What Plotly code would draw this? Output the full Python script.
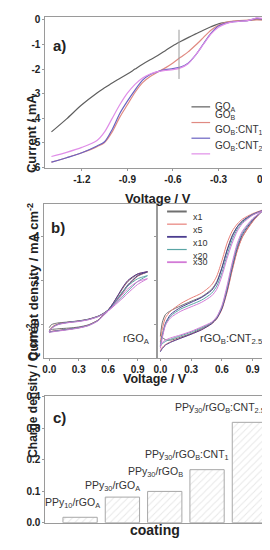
import plotly.graph_objects as go

FONT = "Liberation Sans, Arial, sans-serif"

# ---------------- Panel a data ----------------
a_V = [-1.40, -1.30, -1.20, -1.10, -1.05, -1.00, -0.95, -0.90, -0.85, -0.80, -0.75, -0.70,
       -0.65, -0.60, -0.55, -0.50, -0.45, -0.40, -0.35, -0.30, -0.25, -0.20, -0.10, -0.05, 0.00]
a_GOA = [-4.55, -4.02, -3.45, -2.97, -2.76, -2.56, -2.38, -2.20, -2.00, -1.80, -1.62, -1.45,
         -1.25, -1.05, -0.88, -0.72, -0.57, -0.42, -0.28, -0.16, -0.10, -0.06, -0.02, 0.02, 0.00]
a_GOB = [-5.78, -5.60, -5.40, -5.15, -4.98, -4.55, -3.95, -3.45, -2.95, -2.55, -2.30, -2.12,
         -1.95, -1.75, -1.52, -1.30, -1.02, -0.72, -0.42, -0.22, -0.10, -0.05, -0.01, 0.00, 0.00]
a_CNT1 = [-5.78, -5.60, -5.40, -5.12, -4.95, -4.45, -3.80, -3.30, -2.85, -2.45, -2.22, -2.10,
          -2.02, -1.98, -1.92, -1.76, -1.42, -0.98, -0.55, -0.25, -0.13, -0.07, -0.02, 0.06, 0.02]
a_CNT25 = [-5.55, -5.38, -5.18, -4.90, -4.55, -4.00, -3.45, -2.98, -2.62, -2.36, -2.20, -2.10,
           -2.05, -2.02, -1.95, -1.78, -1.42, -1.00, -0.58, -0.30, -0.15, -0.08, -0.02, 0.08, 0.05]
a_names = ["GO<sub>A</sub>", "GO<sub>B</sub>", "GO<sub>B</sub>:CNT<sub>1</sub>", "GO<sub>B</sub>:CNT<sub>2.5</sub>"]
a_colors = ["#5f5f5f", "#e08a82", "#6a62c2", "#e08ee8"]
a_marker = [-0.56, -0.40, -2.40]  # voltage, top, bottom of the vertical guide
a_xticks = [-1.2, -0.9, -0.6, -0.3, 0.0]
a_xtext = ["-1.2", "-0.9", "-0.6", "-0.3", "0.0"]
a_yticks = [0, -1, -2, -3, -4, -5, -6]
a_ytext = ["0", "-1", "-2", "-3", "-4", "-5", "-6"]

# ---------------- Panel b data ----------------
b_V = [0.0, 0.02, 0.05, 0.1, 0.2, 0.3, 0.4, 0.5, 0.55, 0.6, 0.65, 0.7, 0.75, 0.8, 0.9, 1.0]
b_names = ["x1", "x5", "x10", "x20", "x30"]
b_colors = ["#707070", "#e8807a", "#4b3d8f", "#5aa5a5", "#d27ad6"]
b_widths = [2.0, 1.2, 1.8, 1.2, 1.8]
# rGO_A: forward (upper at low V) and reverse (listed on ascending V grid)
L_fwd = [
    [-0.15, -0.02, 0.03, 0.07, 0.11, 0.16, 0.24, 0.38, 0.50, 0.66, 0.88, 1.15, 1.45, 1.75, 2.20, 2.38],
    [-0.30, -0.15, -0.05, 0.03, 0.10, 0.15, 0.23, 0.37, 0.49, 0.65, 0.88, 1.16, 1.47, 1.77, 2.20, 2.40],
    [-0.32, -0.20, -0.08, 0.02, 0.10, 0.15, 0.23, 0.37, 0.49, 0.65, 0.90, 1.20, 1.50, 1.80, 2.22, 2.40],
    [-0.30, -0.18, -0.08, 0.01, 0.09, 0.14, 0.22, 0.36, 0.48, 0.63, 0.83, 1.05, 1.28, 1.52, 1.95, 2.22],
    [-0.33, -0.20, -0.10, 0.00, 0.08, 0.13, 0.21, 0.35, 0.47, 0.62, 0.80, 1.00, 1.20, 1.42, 1.82, 2.08],
]
L_rev = [
    [-0.25, -0.23, -0.22, -0.20, -0.17, -0.12, -0.02, 0.20, 0.42, 0.66, 0.95, 1.30, 1.65, 1.95, 2.28, 2.38],
    [-0.35, -0.32, -0.30, -0.27, -0.22, -0.15, -0.03, 0.20, 0.42, 0.66, 0.96, 1.32, 1.68, 1.98, 2.30, 2.40],
    [-0.36, -0.33, -0.31, -0.28, -0.22, -0.15, -0.04, 0.19, 0.41, 0.65, 0.96, 1.33, 1.70, 2.00, 2.30, 2.40],
    [-0.36, -0.34, -0.32, -0.29, -0.23, -0.16, -0.05, 0.18, 0.40, 0.62, 0.88, 1.20, 1.50, 1.75, 2.08, 2.22],
    [-0.38, -0.35, -0.33, -0.30, -0.24, -0.17, -0.06, 0.17, 0.39, 0.60, 0.84, 1.12, 1.38, 1.62, 1.95, 2.08],
]
# rGO_B:CNT2.5
R_fwd = [
    [-0.55, 0.10, 0.45, 0.62, 0.85, 1.05, 1.25, 1.60, 1.95, 2.60, 3.40, 4.05, 4.45, 4.70, 5.00, 5.20],
    [-0.80, -0.20, 0.30, 0.60, 0.95, 1.20, 1.42, 1.80, 2.20, 2.90, 3.70, 4.25, 4.58, 4.80, 5.05, 5.22],
    [-1.00, -0.50, 0.05, 0.45, 0.78, 1.00, 1.22, 1.55, 1.90, 2.55, 3.35, 4.00, 4.45, 4.72, 5.02, 5.20],
    [-0.95, -0.50, 0.00, 0.38, 0.70, 0.90, 1.10, 1.42, 1.75, 2.35, 3.15, 3.85, 4.35, 4.65, 5.00, 5.18],
    [-1.10, -0.60, -0.05, 0.30, 0.60, 0.80, 1.00, 1.30, 1.60, 2.20, 3.00, 3.70, 4.25, 4.60, 4.98, 5.18],
]
R_rev = [
    [-0.50, -0.60, -0.70, -0.72, -0.58, -0.42, -0.20, 0.05, 0.30, 0.75, 1.50, 2.50, 3.40, 4.00, 4.70, 5.20],
    [-1.20, -1.05, -0.92, -0.80, -0.62, -0.45, -0.25, 0.02, 0.25, 0.68, 1.45, 2.45, 3.35, 3.98, 4.68, 5.22],
    [-1.25, -1.10, -0.95, -0.82, -0.63, -0.45, -0.25, 0.03, 0.27, 0.72, 1.55, 2.60, 3.50, 4.10, 4.75, 5.20],
    [-1.00, -0.88, -0.78, -0.68, -0.52, -0.36, -0.16, 0.08, 0.32, 0.80, 1.65, 2.70, 3.60, 4.18, 4.80, 5.18],
    [-0.95, -0.82, -0.72, -0.62, -0.48, -0.32, -0.12, 0.10, 0.35, 0.85, 1.75, 2.80, 3.70, 4.25, 4.82, 5.18],
]
b_xticks = [0.0, 0.3, 0.6, 0.9]
b_xtext = ["0.0", "0.3", "0.6", "0.9"]
b_yticks = [0, 2, 4]

# ---------------- Panel c data ----------------
c_labels = ["PPy<sub>10</sub>/rGO<sub>A</sub>", "PPy<sub>30</sub>/rGO<sub>A</sub>",
            "PPy<sub>30</sub>/rGO<sub>B</sub>", "PPy<sub>30</sub>/rGO<sub>B</sub>:CNT<sub>1</sub>",
            "PPy<sub>30</sub>/rGO<sub>B</sub>:CNT<sub>2.5</sub>"]
c_values = [0.017, 0.081, 0.099, 0.168, 0.318]
c_yticks = [0.0, 0.1, 0.2, 0.3, 0.4]
c_ytext = ["0.0", "0.1", "0.2", "0.3", "0.4"]
c_label_dx = [22, 20, 20, 24, 18]
c_label_dy = [14, 11, 19, 15, 14]

fig = go.Figure()

for name, col, ys in zip(a_names, a_colors, [a_GOA, a_GOB, a_CNT1, a_CNT25]):
    fig.add_trace(go.Scatter(x=a_V, y=ys, mode="lines", name=name, showlegend=False,
                             line=dict(color=col, width=1.2, shape="spline", smoothing=0.8),
                             xaxis="x", yaxis="y"))
fig.add_trace(go.Scatter(x=[a_marker[0], a_marker[0]], y=[a_marker[1], a_marker[2]], mode="lines",
                         showlegend=False, line=dict(color="#9a9a9a", width=1), xaxis="x", yaxis="y"))

for i in range(len(b_names)):
    for fwd, rev, xa, ya in [(L_fwd, L_rev, "x2", "y2"), (R_fwd, R_rev, "x3", "y3")]:
        xs = b_V + b_V[::-1]
        ys = fwd[i] + rev[i][::-1]
        fig.add_trace(go.Scatter(x=xs, y=ys, mode="lines", showlegend=False,
                                 line=dict(color=b_colors[i], width=1.0, shape="spline", smoothing=0.7),
                                 xaxis=xa, yaxis=ya))

fig.add_trace(go.Bar(x=list(range(len(c_values))), y=c_values, width=0.81, showlegend=False,
                     marker=dict(color="white", line=dict(color="#a8a8a8", width=1),
                                 pattern=dict(shape="/", fgcolor="#cfcfcf", bgcolor="white", size=5, solidity=0.2)),
                     xaxis="x4", yaxis="y4"))

W, H = 270, 550
def px(x): return x / W
def py(y): return 1 - y / H

tickf = dict(family=FONT, size=10, color="#222", weight="bold")
common = dict(showline=True, linecolor="#9a9a9a", linewidth=1, mirror=True, showgrid=False,
              zeroline=False, ticks="outside", ticklen=2, tickcolor="#9a9a9a", tickfont=tickf)

fig.update_layout(
    width=W, height=H, margin=dict(l=0, r=0, t=0, b=0),
    paper_bgcolor="white", plot_bgcolor="white", showlegend=False,
    font=dict(family=FONT),
    xaxis=dict(domain=[px(34), px(263)], anchor="y", range=[-1.44, 0.04], tickvals=a_xticks, ticktext=a_xtext, **common),
    yaxis=dict(domain=[py(157), py(3)], anchor="x", range=[-6.0, 0.12], tickvals=a_yticks, ticktext=a_ytext, **common),
    xaxis2=dict(domain=[px(33), px(148)], anchor="y2", range=[-0.05, 1.1], tickvals=b_xticks, ticktext=b_xtext, **common),
    yaxis2=dict(domain=[py(352), py(194)], anchor="x2", range=[-1.55, 5.5], tickvals=b_yticks, **common),
    xaxis3=dict(domain=[px(148), px(263)], anchor="y3", range=[-0.03, 1.07], tickvals=b_xticks, ticktext=b_xtext, **common),
    yaxis3=dict(domain=[py(352), py(194)], anchor="x3", range=[-1.55, 5.5], tickvals=b_yticks, showticklabels=False,
                **{k: v for k, v in common.items() if k != "tickfont"}),
    xaxis4=dict(domain=[px(34), px(263)], anchor="y4", range=[-0.82, 4.49], showticklabels=False,
                **{k: v for k, v in common.items() if k not in ("ticks", "tickfont")}, ticks=""),
    yaxis4=dict(domain=[py(520), py(391)], anchor="x4", range=[0, 0.4], tickvals=c_yticks, ticktext=c_ytext, **common),
)

ann = []
shapes = []
bold = lambda s: dict(family=FONT, size=s, color="#222", weight="bold")
reg = lambda s: dict(family=FONT, size=s, color="#333")

# axis titles
ann += [
    dict(text="Current / mA", x=px(10), y=py(80), xref="paper", yref="paper", textangle=-90, showarrow=False, font=bold(13)),
    dict(text="Voltage / V", x=px(149), y=py(179), xref="paper", yref="paper", showarrow=False, font=bold(13)),
    dict(text="Current density / mA cm<sup>-2</sup>", x=px(11), y=py(274), xref="paper", yref="paper", textangle=-90, showarrow=False, font=bold(13)),
    dict(text="Voltage / V", x=px(146), y=py(381), xref="paper", yref="paper", showarrow=False, font=bold(12.5), borderpad=0),
    dict(text="Charge density / Q cm<sup>-2</sup>", x=px(10), y=py(456), xref="paper", yref="paper", textangle=-90, showarrow=False, font=bold(12)),
    dict(text="coating", x=px(146), y=py(538), xref="paper", yref="paper", showarrow=False, font=bold(14)),
]
# panel letters
ann += [
    dict(text="a)", x=0.026, y=0.883, xref="x domain", yref="y domain", xanchor="left", showarrow=False, font=bold(15)),
    dict(text="b)", x=0.043, y=0.912, xref="x2 domain", yref="y2 domain", xanchor="left", showarrow=False, font=bold(15)),
    dict(text="c)", x=0.026, y=0.915, xref="x4 domain", yref="y4 domain", xanchor="left", showarrow=False, font=bold(15)),
    dict(text="rGO<sub>A</sub>", x=0.957, y=0.07, xref="x2 domain", yref="y2 domain", xanchor="right", showarrow=False, font=reg(11)),
    dict(text="rGO<sub>B</sub>:CNT<sub>2.5</sub>", x=0.948, y=0.07, xref="x3 domain", yref="y3 domain", xanchor="right", showarrow=False, font=reg(11)),
]
# legend a
a_rows = [0.403, 0.299, 0.195, 0.091]
for name, col, yy in zip(a_names, a_colors, a_rows):
    shapes.append(dict(type="line", xref="x domain", yref="y domain", x0=0.650, x1=0.733, y0=yy, y1=yy,
                       line=dict(color=col, width=1.2)))
    ann.append(dict(text=name, x=0.745, y=yy, xref="x domain", yref="y domain", xanchor="left",
                    showarrow=False, font=reg(10)))
# legend b
b_rows = [0.950, 0.868, 0.786, 0.704, 0.622]
for name, col, w, yy in zip(b_names, b_colors, b_widths, b_rows):
    shapes.append(dict(type="line", xref="x3 domain", yref="y3 domain", x0=0.087, x1=0.261, y0=yy, y1=yy,
                       line=dict(color=col, width=w)))
    ann.append(dict(text=name, x=0.304, y=yy, xref="x3 domain", yref="y3 domain", xanchor="left",
                    showarrow=False, font=reg(9), borderpad=0))
# bar labels
for i, (lab, v) in enumerate(zip(c_labels, c_values)):
    ann.append(dict(text=lab, x=i, y=v, xref="x4", yref="y4", xanchor="right",
                    xshift=c_label_dx[i], yshift=c_label_dy[i],
                    showarrow=False, font=reg(10.5)))

fig.update_layout(annotations=ann, shapes=shapes)
fig.write_html("out.html")
